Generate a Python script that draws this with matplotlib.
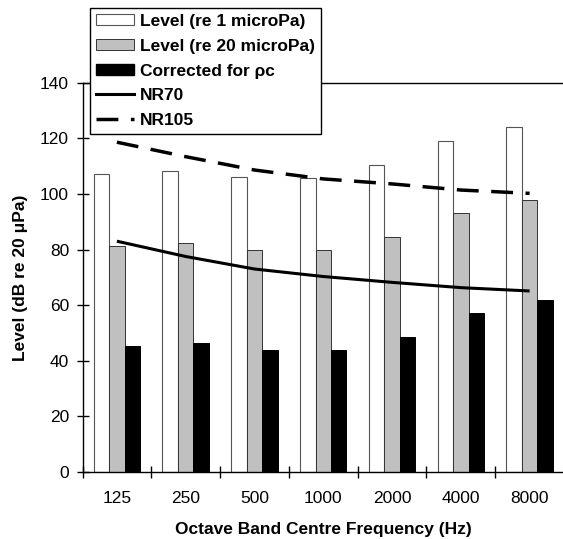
import numpy as np
import matplotlib
matplotlib.use('Agg')
import matplotlib.pyplot as plt
from matplotlib.patches import Patch
from matplotlib.lines import Line2D

plt.rcParams['font.family'] = ['Liberation Sans', 'DejaVu Sans']

freqs = ['125', '250', '500', '1000', '2000', '4000', '8000']
level_re1 = [107.2, 108.2, 106.0, 105.6, 110.5, 119.2, 123.9]
level_re20 = [81.2, 82.3, 80.0, 79.7, 84.4, 93.3, 97.8]
corrected = [45.2, 46.3, 43.9, 43.8, 48.4, 57.2, 61.9]
nr70 = [83.0, 77.5, 73.0, 70.3, 68.2, 66.3, 65.1]
nr105 = [118.6, 113.4, 108.6, 105.4, 103.6, 101.4, 100.2]

x = np.arange(len(freqs))
w = 0.225
fs = 12.5

fig = plt.figure(figsize=(5.63, 5.39), dpi=100)
ax = fig.add_axes([82.5 / 563, 67 / 539, 481.5 / 563, 389.3 / 539])

ax.bar(x - w, level_re1, w, color='white', edgecolor='#555555', linewidth=0.8)
ax.bar(x, level_re20, w, color='#c0c0c0', edgecolor='#333333', linewidth=0.7)
ax.bar(x + w, corrected, w, color='black', edgecolor='black', linewidth=0.7)
ax.plot(x, nr70, color='black', lw=2.2, solid_capstyle='butt')
ax.plot(x, nr105, color='black', lw=2.5, dashes=(6.3, 3.6), dash_capstyle='butt')

ax.set_xlim(-0.5, 6.5)
ax.set_ylim(0, 140)
ax.set_yticks(np.arange(0, 141, 20))
ax.set_xticks(x)
ax.set_xticklabels(freqs)
ax.set_xticks(np.arange(-0.5, 7, 1), minor=True)
ax.tick_params(axis='x', which='major', length=0, pad=14, labelsize=fs)
ax.tick_params(axis='x', which='minor', direction='inout', length=8.4, width=1)
ax.tick_params(axis='y', direction='inout', length=8.4, width=1, pad=5.5, labelsize=fs)

for s in ['left', 'bottom', 'top']:
    ax.spines[s].set_linewidth(1)
ax.spines['right'].set_visible(False)

ax.set_xlabel('Octave Band Centre Frequency (Hz)', fontsize=fs, fontweight='bold')
ax.xaxis.set_label_coords(0.5, -0.128)
ax.set_ylabel('Level (dB re 20 μPa)', fontsize=fs, fontweight='bold')
ax.yaxis.set_label_coords(-0.113, 0.5)

handles = [
    Patch(facecolor='white', edgecolor='#555555', linewidth=0.8),
    Patch(facecolor='#c0c0c0', edgecolor='#333333', linewidth=0.7),
    Patch(facecolor='black', edgecolor='black'),
    Line2D([], [], color='black', lw=2.2),
    Line2D([], [], color='black', lw=2.5, dashes=(6.3, 3.6), dash_capstyle='butt'),
]
labels = ['Level (re 1 microPa)', 'Level (re 20 microPa)', 'Corrected for ρc', 'NR70', 'NR105']
leg = fig.legend(handles, labels, loc='upper left', bbox_to_anchor=(90 / 563, 1 - 8 / 539),
                 prop={'weight': 'bold', 'size': fs}, frameon=True, fancybox=False,
                 edgecolor='black', framealpha=1, borderpad=0.35, handlelength=2.2,
                 handleheight=0.6, handletextpad=0.35, labelspacing=0.56, borderaxespad=0)
leg.get_frame().set_linewidth(1)

fig.savefig('out.png', dpi=100)
